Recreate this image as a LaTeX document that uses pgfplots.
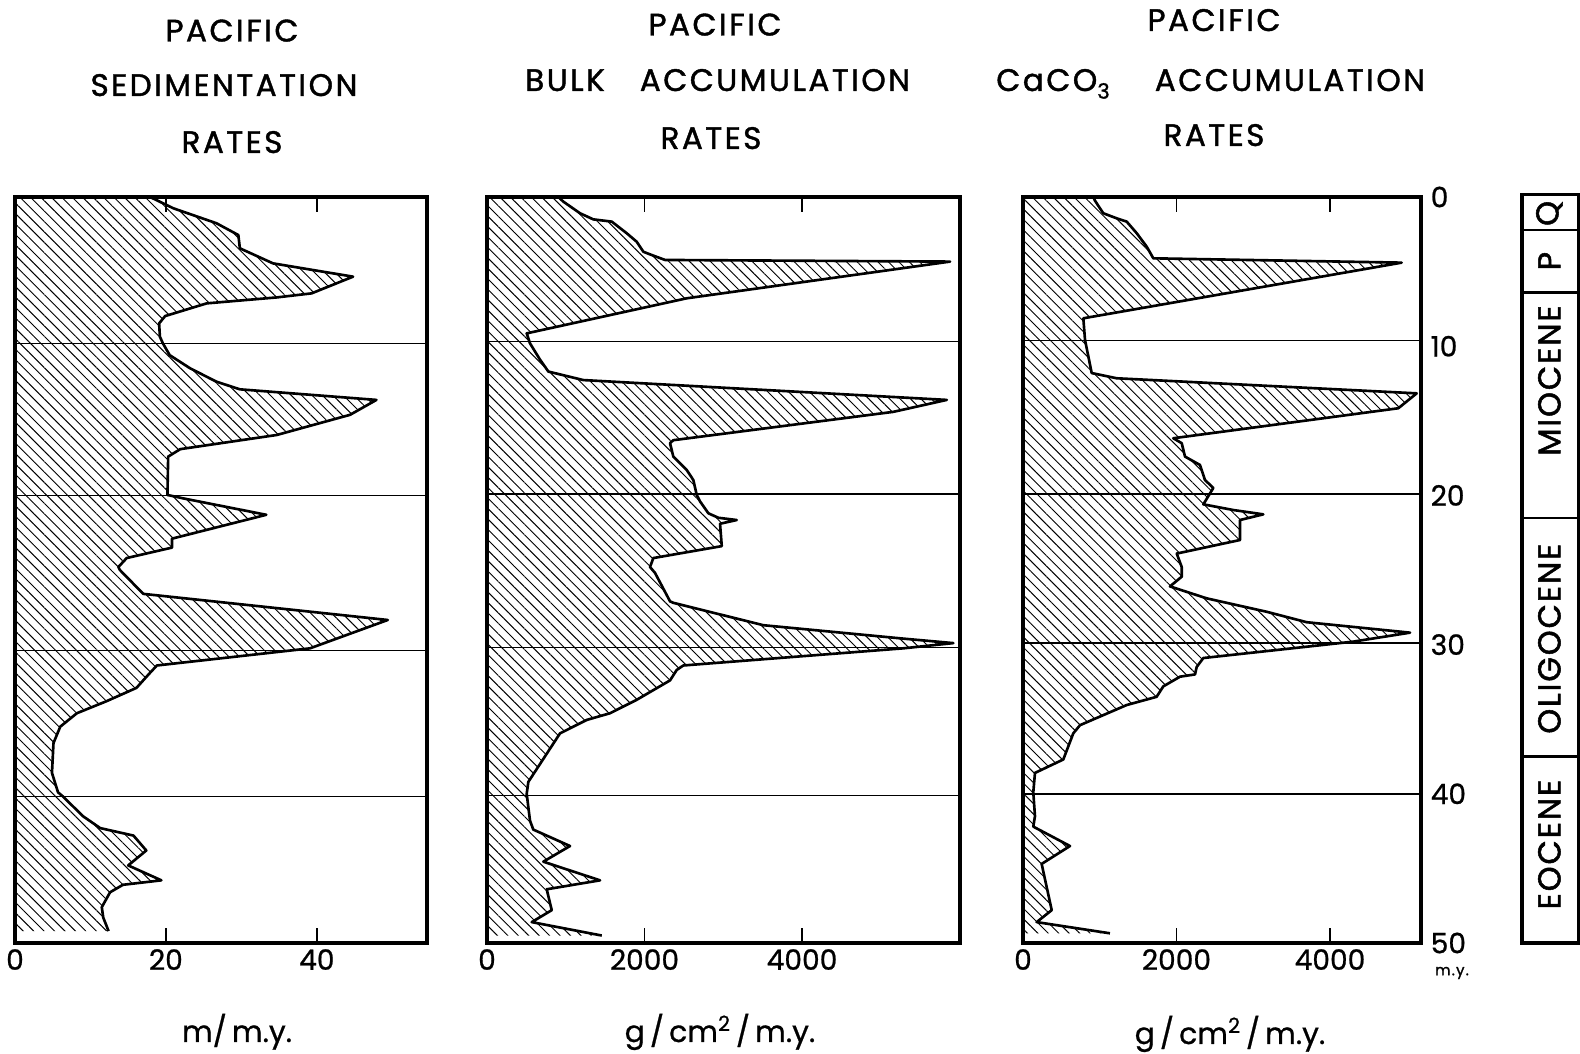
\documentclass[border=0pt]{standalone}
\usepackage{fontspec}
\setmainfont{Poppins}
\newfontfamily\tf[LetterSpace=8,FakeBold=1.3]{Poppins}
\newfontfamily\ef[LetterSpace=6,FakeBold=1.6]{Poppins}
\newfontfamily\nf[FakeBold=0.8]{Poppins}
\usepackage{pgfplots}
\usepackage{pgfplotstable}
\pgfplotsset{compat=1.18}
\usetikzlibrary{patterns.meta}

\pgfplotstableread{
v age
0 0
17.9 0
21.0 0.76
26.7 1.76
29.6 2.55
29.8 3.44
34.2 4.45
44.8 5.34
39.3 6.46
34.7 6.73
25.4 7.13
19.9 7.98
19.1 8.47
19.2 9.36
19.6 9.81
20.5 10.6
23.2 11.48
26.7 12.38
29.8 12.89
47.9 13.6
44.4 14.6
34.7 15.95
21.9 16.9
20.3 17.4
20.2 19.97
22.3 20.2
33.3 21.3
20.8 22.9
20.8 23.5
14.8 24.2
13.7 24.8
13.9 25.0
17.0 26.6
49.4 28.35
39.1 30.25
18.8 31.4
17.7 32.0
16.1 32.9
12.1 33.8
8.2 34.6
6.0 35.5
5.1 36.6
4.9 38.6
5.7 39.9
6.4 40.2
9.0 41.5
11.3 42.3
15.7 42.8
17.4 43.8
15.0 44.8
19.4 45.8
14.3 46.1
12.6 46.6
11.5 47.6
11.7 48.3
12.4 49.2
0 49.2
}\sed

\pgfplotstableread{
v age
0 0
906 0
969 0.31
1181 1.09
1350 1.50
1584 1.65
1774 2.43
1901 3.0
1985 3.67
2092 3.89
2261 4.22
5880 4.33
2536 6.79
504 9.14
546 9.81
673 10.9
779 11.7
1012 12.0
1223 12.27
5838 13.6
5160 14.4
2366 16.3
2324 16.5
2366 17.4
2536 18.3
2620 18.97
2663 19.97
2705 20.4
2811 21.2
2938 21.5
3171 21.65
2959 21.9
2981 23.4
2112 24.2
2070 24.8
2134 25.2
2324 27.1
2366 27.2
3509 28.7
5287 29.6
5922 29.9
5287 30.25
2493 31.4
2409 31.7
2324 32.4
1901 33.7
1562 34.6
1266 35.05
927 35.95
525 39.2
504 40.0
546 41.8
588 42.4
1054 43.5
715 44.55
1435 45.8
758 46.4
822 47.8
568 48.6
1457 49.5
0 49.5
}\bulk

\pgfplotstableread{
v age
0 0
916 0
938 0.25
1046 1.09
1221 1.43
1351 1.65
1482 2.43
1612 3.33
1698 4.11
4934 4.40
786 8.13
808 9.58
895 11.8
1221 12.15
5130 13.16
4890 14.16
1958 16.17
2068 16.5
2111 17.4
2306 17.96
2371 18.97
2480 19.5
2437 19.86
2350 20.6
2740 20.98
3131 21.27
2828 21.65
2828 22.99
2003 23.9
2068 24.8
2068 25.45
1915 26.1
2393 26.9
3175 27.8
3697 28.5
5043 29.2
4304 29.8
2350 30.9
2263 31.5
2241 32.0
2046 32.15
1828 32.8
1741 33.5
1351 34.05
743 35.4
655 35.95
525 37.7
156 38.6
134 39.9
156 41.5
134 42.2
612 43.5
243 44.7
374 47.8
178 48.6
1133 49.35
0 49.35
}\caco

\pgfplotsset{
  panel/.style={
    scale only axis, height=14.92cm, anchor=north west,
    ymin=0, ymax=50, y dir=reverse, xmin=0,
    axis line style={line width=1.8pt},
    tick align=inside, major tick length=0.3cm,
    xtick style={line width=1pt, black},
    ytick=\empty,
    ticklabel style={font=\nf\fontsize{16}{16}\selectfont},
    /pgf/number format/assume math mode=true,
    /pgf/number format/1000 sep={},
    extra y tick labels={},
    extra y tick style={grid=major, major grid style={line width=0.8pt, black}, tick style={draw=none}},
  },
  hatch/.style={draw=none, pattern={Lines[angle=-45,distance=4.2pt,line width=0.55pt]}},
  curve/.style={black, line width=1.5pt, line join=round, mark=none,
    x filter/.expression={x<=0 ? nan : x}},
}
\tikzset{epoch/.style={rotate=90, font=\ef\fontsize{18}{18}\selectfont, inner sep=0pt}}

\begin{document}
\begin{tikzpicture}
\useasboundingbox (0,0) rectangle (31.6,21.08);

% Panel 1
\begin{axis}[panel, at={(0.30cm,17.14cm)}, width=8.24cm, xmax=54.6,
  xtick={0,20,40}, extra y ticks={9.8,20,30.4,40.2}]
\addplot[hatch] table[x=v,y=age] {\sed};
\addplot[curve] table[x=v,y=age] {\sed};
\end{axis}

% Panel 2
\begin{axis}[panel, at={(9.74cm,17.14cm)}, width=9.46cm, xmax=6006,
  xtick={0,2000,4000}, extra y ticks={9.7,19.9,30.2,40.1}]
\addplot[hatch] table[x=v,y=age] {\bulk};
\addplot[curve] table[x=v,y=age] {\bulk};
\end{axis}

% Panel 3
\begin{axis}[panel, at={(20.46cm,17.14cm)}, width=7.96cm, xmax=5186,
  xtick={0,2000,4000}, extra y ticks={9.6,19.9,29.9,40.0},
  ytick={0,10,20,30,40,50}, yticklabel pos=right,
  ytick style={draw=none},
  yticklabel style={anchor=west, xshift=2pt}]
\addplot[hatch] table[x=v,y=age] {\caco};
\addplot[curve] table[x=v,y=age] {\caco};
\end{axis}

% Epoch column
\begin{axis}[scale only axis, anchor=north west, at={(30.44cm,17.14cm)},
  width=1.14cm, height=14.92cm, hide axis, clip=false,
  xmin=0, xmax=1, ymin=0, ymax=50, y dir=reverse]
\draw[line width=1.8pt] (axis cs:0,-0.15) rectangle (axis cs:1,50);
\draw[line width=1.4pt] (axis cs:0,2.2) -- (axis cs:1,2.2);
\draw[line width=1.4pt] (axis cs:0,6.4) -- (axis cs:1,6.4);
\draw[line width=1.4pt] (axis cs:0,21.5) -- (axis cs:1,21.5);
\draw[line width=1.4pt] (axis cs:0,37.5) -- (axis cs:1,37.5);
\node[epoch] at (axis cs:0.48,1.1) {Q};
\node[epoch] at (axis cs:0.48,4.3) {P};
\node[epoch] at (axis cs:0.48,12.3) {MIOCENE};
\node[epoch] at (axis cs:0.48,29.6) {OLIGOCENE};
\node[epoch] at (axis cs:0.48,43.4) {EOCENE};
\end{axis}

% Titles
\begin{scope}[every node/.style={font=\tf\fontsize{17.7}{17.7}\selectfont, anchor=base, inner sep=0pt}]
\node at (4.64,20.25) {PACIFIC};
\node at (4.48,19.16) {SEDIMENTATION};
\node at (4.64,18.02) {RATES};
\node at (14.30,20.37) {PACIFIC};
\node at (11.30,19.26) {BULK};
\node at (15.50,19.26) {ACCUMULATION};
\node at (14.22,18.10) {RATES};
\node at (24.28,20.46) {PACIFIC};
\node at (21.06,19.26) {CaCO\raisebox{-0.45ex}{\fontsize{12}{12}\selectfont 3}};
\node at (25.80,19.26) {ACCUMULATION};
\node at (24.28,18.16) {RATES};
\end{scope}

% Units
\begin{scope}[every node/.style={font=\nf\fontsize{17}{17}\selectfont, anchor=base, inner sep=0pt}]
\node at (4.74,0.24) {m/\,m.y.};
\node at (14.40,0.24) {g\,/\,cm\textsuperscript{2}\,/\,m.y.};
\node at (24.60,0.20) {g\,/\,cm\textsuperscript{2}\,/\,m.y.};
\end{scope}
\node[font=\tf\fontsize{8.5}{8.5}\selectfont, inner sep=0pt] at (29.04,1.62) {m.y.};
\end{tikzpicture}
\end{document}
